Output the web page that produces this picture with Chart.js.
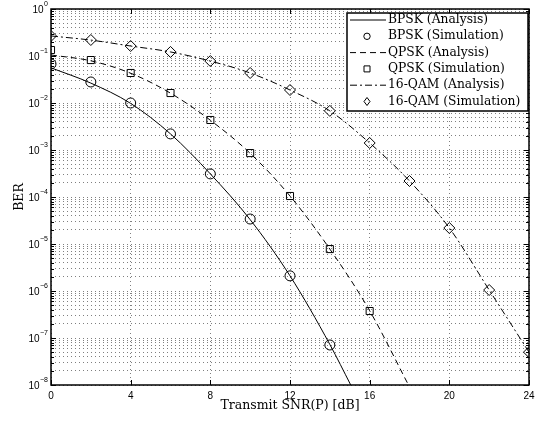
<!DOCTYPE html>
<html>
<head>
<meta charset="utf-8">
<script src="https://cdn.jsdelivr.net/npm/chart.js@4/dist/chart.umd.min.js"></script>
<style>
  html, body { margin: 0; padding: 0; background: #fff; }
  #wrap { width: 544px; height: 423px; }
</style>
</head>
<body>
<div id="wrap"><canvas id="myChart"></canvas></div>
<script>
// values
const bpskSimSnr = [0, 2, 4, 6, 8, 10, 12, 14];
const bpskSim = [0.0676, 0.028, 0.0100, 2.2e-3, 3.1e-4, 3.4e-5, 2.1e-6, 7.1e-8];
const qpskSimSnr = [0, 2, 4, 6, 8, 10, 12, 14, 16];
const qpskSim = [0.134, 0.082, 0.0435, 0.0163, 4.35e-3, 8.6e-4, 1.05e-4, 7.8e-6, 3.75e-7];
const qamSimSnr = [0, 2, 4, 6, 8, 10, 12, 14, 16, 18, 20, 22, 24];
const qamSim = [0.267, 0.219, 0.163, 0.122, 0.078, 0.0435, 0.0189, 6.8e-3, 1.41e-3, 2.19e-4, 2.19e-5, 1.05e-6, 5.0e-8];

const bpskAnaSnr = [0, 2, 4, 6, 8, 10, 12, 14, 15.05];
const bpskAna = [0.056, 0.0265, 0.0098, 2.2e-3, 3.1e-4, 3.3e-5, 2.1e-6, 7.3e-8, 1e-8];
const qpskAnaSnr = [0, 2, 4, 6, 8, 10, 12, 14, 16, 17.95];
const qpskAna = [0.105, 0.079, 0.043, 0.0162, 4.3e-3, 8.5e-4, 1.05e-4, 7.8e-6, 3.8e-7, 1e-8];
const qamAnaSnr = [0, 2, 4, 6, 8, 10, 12, 14, 16, 18, 20, 22, 24];
const qamAna = [0.267, 0.218, 0.163, 0.122, 0.078, 0.0435, 0.0189, 6.8e-3, 1.41e-3, 2.19e-4, 2.19e-5, 1.05e-6, 5.0e-8];

const xTicks = [0, 4, 8, 12, 16, 20, 24];
const decades = [-8, -7, -6, -5, -4, -3, -2, -1, 0];

const labels = ['BPSK (Analysis)', 'BPSK (Simulation)', 'QPSK (Analysis)',
                'QPSK (Simulation)', '16-QAM (Analysis)', '16-QAM (Simulation)'];

const pts = (xs, ys) => xs.map((x, i) => ({ x: x, y: ys[i] }));

const serif = '"DejaVu Serif", "Liberation Serif", serif';
const sans = '"Liberation Sans", Arial, sans-serif';

function lineSet(label, data, dash) {
    return {
        label: label, data: data, borderColor: '#000', borderWidth: 1,
        borderDash: dash, pointRadius: 0, fill: false,
        cubicInterpolationMode: 'monotone'
    };
}
function markSet(label, data, style, r) {
    return {
        label: label, data: data, showLine: false, pointStyle: style,
        pointRadius: r, pointBorderWidth: 1, pointBorderColor: '#000',
        pointBackgroundColor: 'rgba(0,0,0,0)'
    };
}

const datasets = [
    lineSet(labels[0], pts(bpskAnaSnr, bpskAna), []),
    markSet(labels[1], pts(bpskSimSnr, bpskSim), 'circle', 5),
    lineSet(labels[2], pts(qpskAnaSnr, qpskAna), [6, 4]),
    markSet(labels[3], pts(qpskSimSnr, qpskSim), 'rect', 5),
    lineSet(labels[4], pts(qamAnaSnr, qamAna), [7, 3, 2, 3]),
    markSet(labels[5], pts(qamSimSnr, qamSim), 'rectRot', 5.5)
];

function drawMarker(ctx, style, x, y) {
    ctx.beginPath();
    if (style === 'circle') ctx.arc(x, y, 3.2, 0, Math.PI * 2);
    else if (style === 'rect') ctx.rect(x - 3, y - 3, 6, 6);
    else { ctx.moveTo(x, y - 4); ctx.lineTo(x + 3, y); ctx.lineTo(x, y + 4); ctx.lineTo(x - 3, y); ctx.closePath(); }
    ctx.stroke();
}

const framePlugin = {
    id: 'frame',
    afterDatasetsDraw(chart) {
        const ctx = chart.ctx, a = chart.chartArea;
        const xs = chart.scales.x, ys = chart.scales.y;
        ctx.save();
        ctx.strokeStyle = '#000';
        ctx.lineWidth = 1;
        // inward ticks
        ctx.beginPath();
        xTicks.forEach(v => {
            const px = Math.round(xs.getPixelForValue(v)) + 0.5;
            ctx.moveTo(px, a.bottom); ctx.lineTo(px, a.bottom - 5);
            ctx.moveTo(px, a.top); ctx.lineTo(px, a.top + 5);
        });
        ys.ticks.forEach(t => {
            const py = Math.round(ys.getPixelForValue(t.value)) + 0.5;
            const len = t.major ? 5 : 3;
            ctx.moveTo(a.left, py); ctx.lineTo(a.left + len, py);
            ctx.moveTo(a.right, py); ctx.lineTo(a.right - len, py);
        });
        ctx.stroke();
        ctx.lineWidth = 1.5;
        ctx.strokeRect(a.left, a.top, a.right - a.left, a.bottom - a.top);
        // y tick labels 10^n
        ctx.fillStyle = '#000';
        ctx.textBaseline = 'middle';
        decades.forEach(d => {
            const py = ys.getPixelForValue(Math.pow(10, d));
            const ex = d === 0 ? '0' : '\u2212' + Math.abs(d);
            ctx.font = '7px ' + sans;
            const ew = ctx.measureText(ex).width;
            const ex0 = a.left - 3 - ew;
            ctx.textAlign = 'left';
            ctx.fillText(ex, ex0, py - 5);
            ctx.font = '10px ' + sans;
            ctx.textAlign = 'right';
            ctx.fillText('10', ex0 - 0.5, py + 1);
        });
        ctx.restore();
    },
    afterDraw(chart) {
        const ctx = chart.ctx;
        const bx = 347, by = 13, bw = 181, bh = 98, row = 16.3;
        ctx.save();
        ctx.fillStyle = '#fff';
        ctx.fillRect(bx, by, bw, bh);
        ctx.strokeStyle = '#000';
        ctx.lineWidth = 1.5;
        ctx.strokeRect(bx, by, bw, bh);
        ctx.lineWidth = 1;
        ctx.font = '12.3px ' + serif;
        ctx.textBaseline = 'middle';
        ctx.fillStyle = '#000';
        chart.data.datasets.forEach((ds, i) => {
            const cy = by + 7 + i * row;
            if (ds.showLine === false) {
                ctx.setLineDash([]);
                drawMarker(ctx, ds.pointStyle, 367, cy);
            } else {
                ctx.setLineDash(ds.borderDash);
                ctx.beginPath();
                ctx.moveTo(350, cy); ctx.lineTo(386, cy);
                ctx.stroke();
                ctx.setLineDash([]);
            }
            ctx.fillText(ds.label, 388, cy);
        });
        ctx.restore();
    }
};

const ctx = document.getElementById('myChart').getContext('2d');
const myChart = new Chart(ctx, {
    type: 'line',
    data: { datasets: datasets },
    plugins: [framePlugin],
    options: {
        responsive: true,
        maintainAspectRatio: false,
        animation: false,
        layout: { padding: { top: 9, right: 15, left: 0, bottom: 0 } },
        plugins: { legend: { display: false }, tooltip: { enabled: false } },
        scales: {
            x: {
                type: 'linear', min: 0, max: 24,
                afterBuildTicks: s => { s.ticks = xTicks.map(v => ({ value: v })); },
                afterFit: s => { s.height = 38; },
                ticks: { color: '#000', font: { family: sans, size: 10 }, padding: 5, maxRotation: 0 },
                grid: { color: 'rgba(0,0,0,0.5)', lineWidth: 1, drawTicks: false },
                border: { display: false, dash: [1, 3] },
                title: { display: true, text: 'Transmit SNR(P) [dB]', color: '#000',
                         font: { family: serif, size: 12.5 }, padding: { top: 0, bottom: 10 } }
            },
            y: {
                type: 'logarithmic', min: 1e-8, max: 1,
                afterBuildTicks: s => {
                    const t = [];
                    decades.forEach(d => {
                        for (let m = 1; m <= 9; m++) {
                            if (d === 0 && m > 1) break;
                            t.push({ value: parseFloat(m + 'e' + d), major: m === 1 });
                        }
                    });
                    s.ticks = t;
                },
                afterFit: s => { s.width = 51; },
                ticks: { display: false },
                grid: { color: 'rgba(0,0,0,0.5)', lineWidth: 1, drawTicks: false },
                border: { display: false, dash: [1, 3] },
                title: { display: true, text: 'BER', color: '#000',
                         font: { family: serif, size: 12.5 }, padding: { top: 12, bottom: 0 } }
            }
        }
    }
});
</script>
</body>
</html>
